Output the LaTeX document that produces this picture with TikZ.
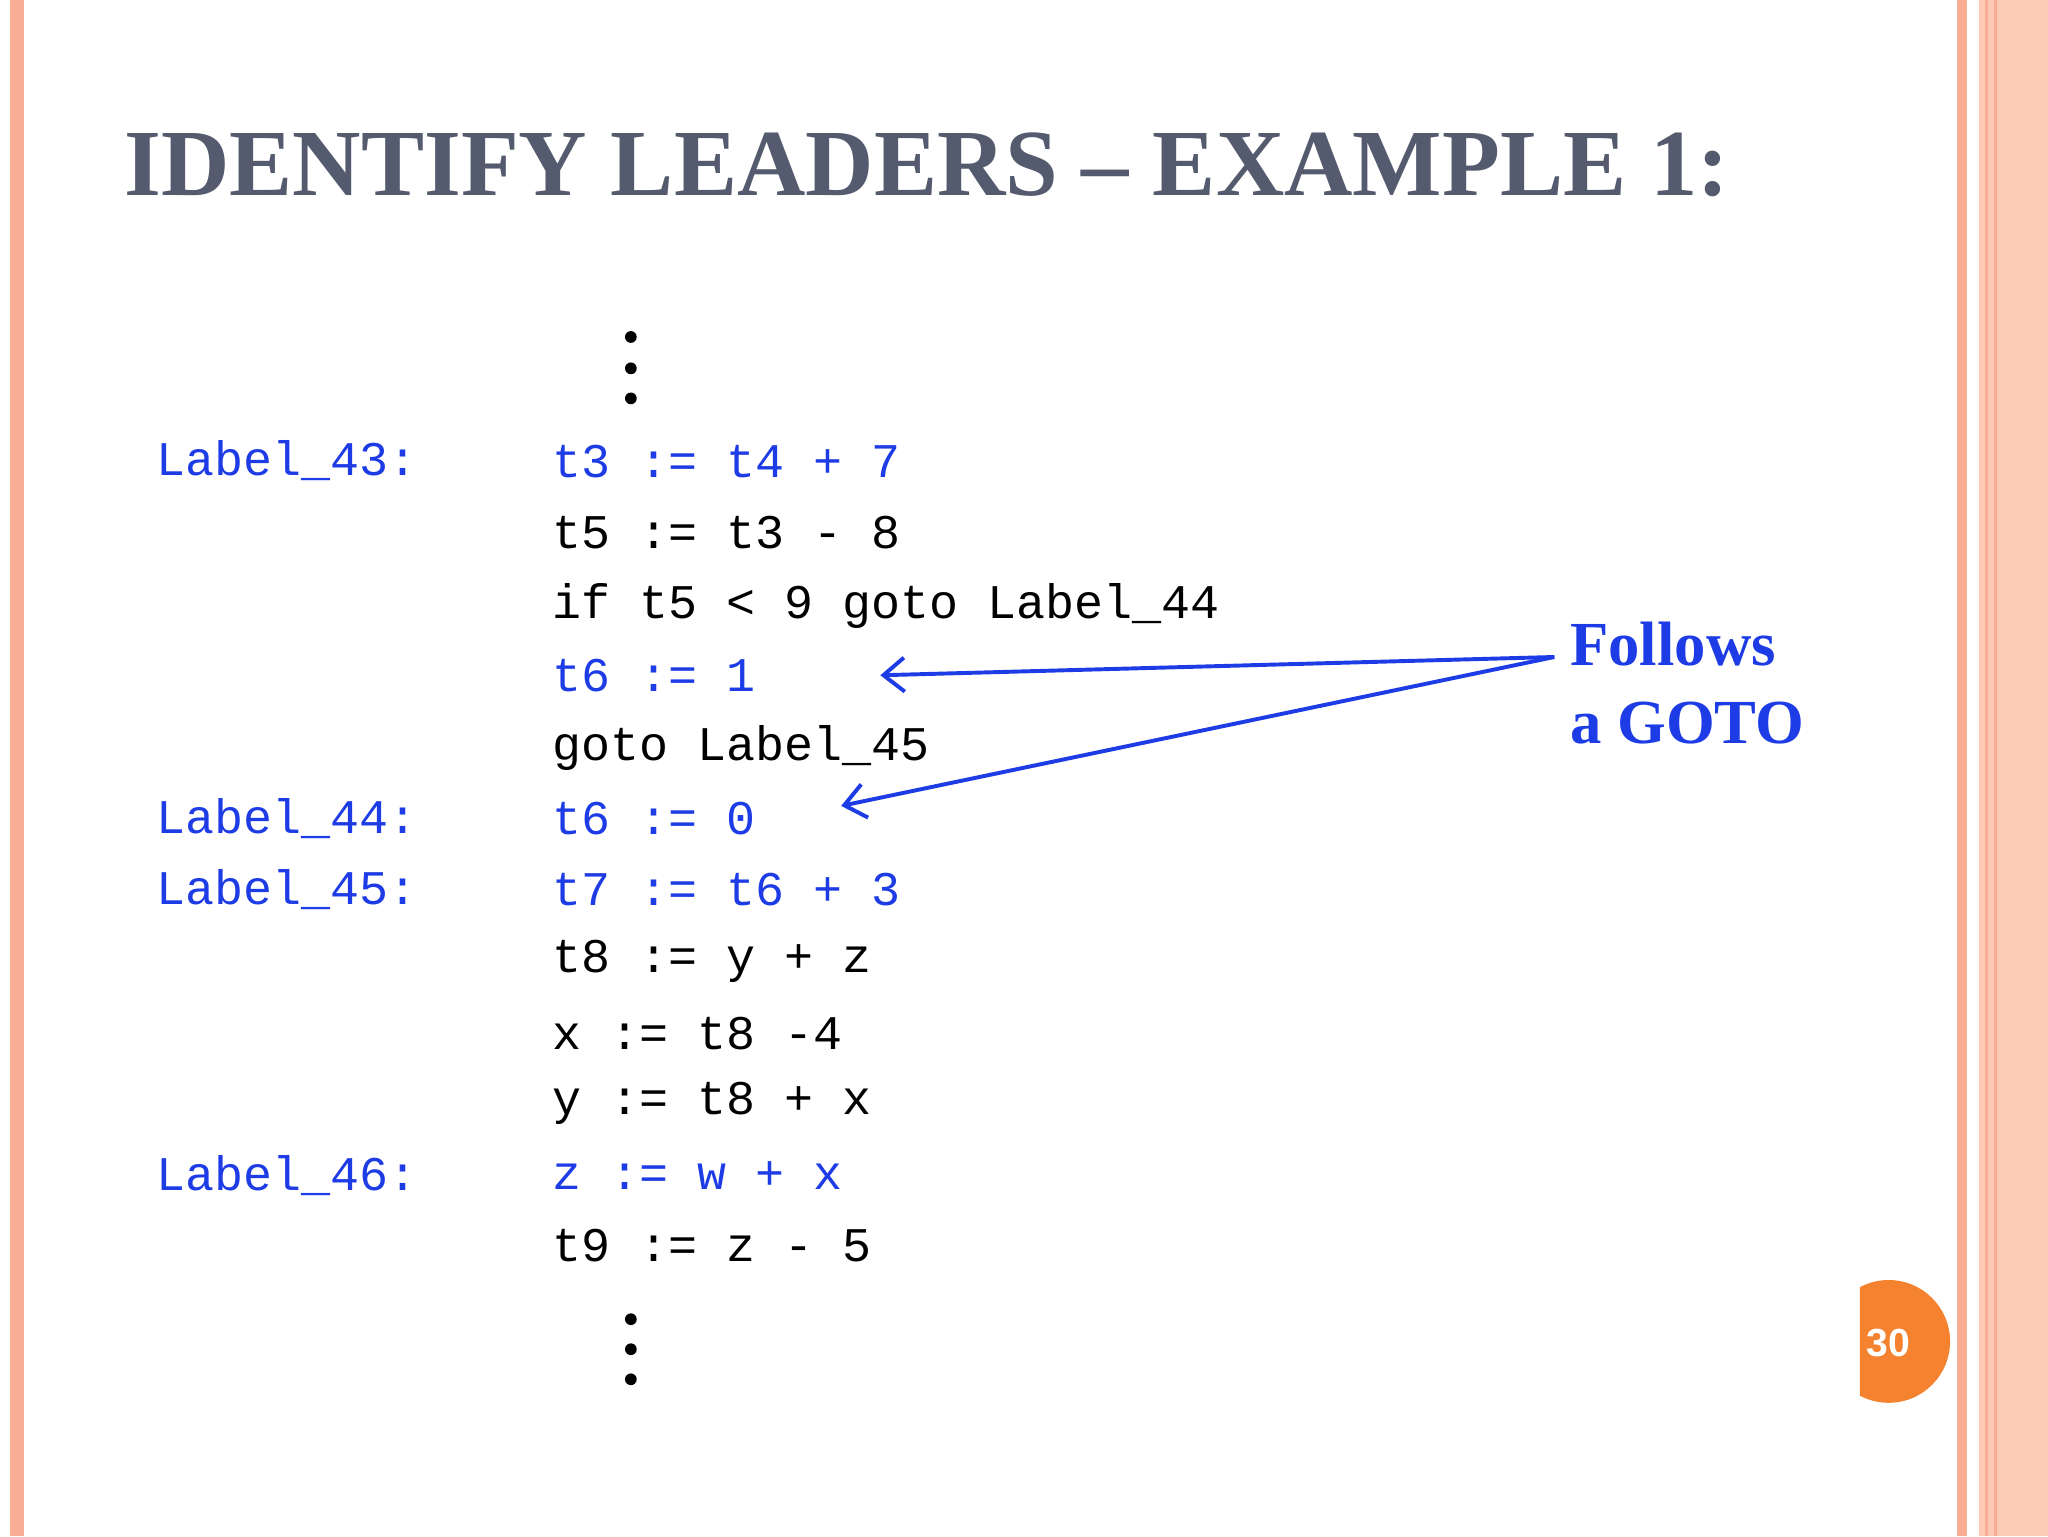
\documentclass[tikz,border=0pt]{standalone}
\usepackage{fontspec}
\setmainfont{Liberation Serif}
\setmonofont{Liberation Mono}
\newfontfamily\numfont{Liberation Sans}
\usetikzlibrary{arrows.meta}
\definecolor{codeblue}{HTML}{1E3CE6}
\definecolor{titlegray}{HTML}{555B6E}
\definecolor{salmon}{HTML}{F7AE94}
\definecolor{peach}{HTML}{FCCAB5}
\definecolor{orangec}{HTML}{F5822F}
\tikzset{
 code/.style={anchor=west,inner sep=0pt,font=\ttfamily\fontsize{37}{37}\selectfont},
 bluecode/.style={code,text=codeblue},
 dotc/.style={fill=black,circle,inner sep=0pt,minimum size=9pt},
 callout/.style={draw=codeblue,line width=3pt,-{Straight Barb[length=16pt,width=26pt,line width=3pt]}}
}
\begin{document}
\begin{tikzpicture}[x=1pt,y=-1pt]
\useasboundingbox (0,0) rectangle (1568,1176);
\fill[white] (0,0) rectangle (1568,1176);
\fill[salmon] (8,0) rectangle (18,1176);
\fill[salmon] (1498,0) rectangle (1506,1176);
\fill[peach] (1515,0) rectangle (1568,1176);
\draw[salmon,line width=2pt] (1521,0) -- (1521,1176);
\draw[salmon,line width=2pt] (1528,0) -- (1528,1176);
\node[anchor=base west,inner sep=0pt,text=titlegray,font=\bfseries\fontsize{72.5}{72.5}\selectfont] (title) at (95,150) {IDENTIFY LEADERS – EXAMPLE 1:};
% dots
\node[dotc] (d1) at (483,258) {};\node[dotc] (d2) at (483,282) {};\node[dotc] (d3) at (483,305) {};
\node[dotc] (d4) at (483,1010) {};\node[dotc] (d5) at (483,1033) {};\node[dotc] (d6) at (483,1056) {};
% labels
\node[bluecode] (l43) at (120,353) {Label\_43:};
\node[bluecode] (l44) at (120,627) {Label\_44:};
\node[bluecode] (l45) at (120,681) {Label\_45:};
\node[bluecode] (l46) at (120,900) {Label\_46:};
% code
\node[bluecode] (c1) at (423,353) {t3 := t4 + 7};
\node[code] (c2) at (423,408) {t5 := t3 - 8};
\node[code] (c3) at (423,464) {if t5 < 9 goto Label\_44};
\node[bluecode] (c4) at (423,517) {t6 := 1};
\node[code] (c5) at (423,573) {goto Label\_45};
\node[bluecode] (c6) at (423,627) {t6 := 0};
\node[bluecode] (c7) at (423,681) {t7 := t6 + 3};
\node[code] (c8) at (423,736) {t8 := y + z};
\node[code] (c9) at (423,791) {x := t8 -4};
\node[code] (c10) at (423,845) {y := t8 + x};
\node[bluecode] (c11) at (423,900) {z := w + x};
\node[code] (c12) at (423,954) {t9 := z - 5};
% callout
\node[anchor=west,inner sep=0pt,align=left,text=codeblue,font=\bfseries\fontsize{48}{60}\selectfont] (fol) at (1202,523) {Follows\\a GOTO};
\coordinate (src) at (1190,503);
\draw[callout] (src) -- (674,517);
\draw[callout] (src) -- (644,617);
% page number
\begin{scope}
\clip (1424,960) rectangle (1500,1100);
\fill[orangec] (1446,1027) circle (47);
\end{scope}
\node[text=white,font=\numfont\bfseries\fontsize{30}{30}\selectfont] (pg) at (1446,1028) {30};
\end{tikzpicture}
\end{document}
